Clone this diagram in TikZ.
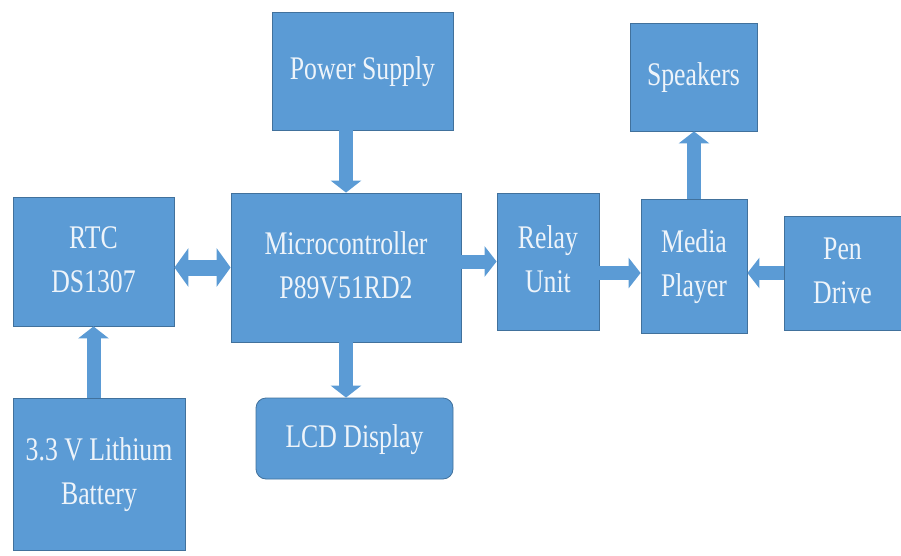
\documentclass[tikz,border=0pt]{standalone}
\usepackage{fontspec}
\setmainfont{LiberationSerif-Regular.ttf}
\usetikzlibrary{arrows.meta,calc}
\definecolor{blockblue}{HTML}{5B9BD5}
\definecolor{blockedge}{HTML}{41719C}
\definecolor{blocktext}{HTML}{EEF4FA}
% narrow, tall lettering as in the original slide
\newcommand{\blocktxt}[1]{\scalebox{0.78}[1]{\begin{tabular}{@{}c@{}}#1\end{tabular}}}
\begin{document}
\begin{tikzpicture}[x=1pt, y=-1pt,
  block/.style={draw=blockedge, fill=blockblue, line width=0.8pt, text=blocktext, align=center,
    inner sep=0pt, font=\fontsize{33}{44}\selectfont},
  flow/.style={draw=blockblue, line width=14pt, -{Triangle[width=30pt,length=12pt]}},
  both/.style={draw=blockblue, line width=16pt, {Triangle[width=38pt,length=14pt]}-{Triangle[width=38pt,length=14pt]}}]
\useasboundingbox (0,0) rectangle (901,556);

% Blocks
\node[block, minimum width=181pt, minimum height=118pt] (power) at (362.5,71) {\blocktxt{Power Supply}};
\node[block, minimum width=127pt, minimum height=108pt] (speakers) at (693.5,77) {\blocktxt{Speakers}};
\node[block, minimum width=161pt, minimum height=129pt] (rtc) at (93.5,261.5) {\blocktxt{RTC\\DS1307}};
\node[block, minimum width=230pt, minimum height=149pt] (micro) at (346,267.5) {\blocktxt{Microcontroller\\P89V51RD2}};
\node[block, minimum width=102pt, minimum height=137pt] (relay) at (548,261.5) {\blocktxt{Relay\\Unit}};
\node[block, minimum width=106pt, minimum height=134pt] (media) at (694,266) {\blocktxt{Media\\Player}};
\node[block, minimum width=117pt, minimum height=114pt] (pen) at (842.5,273) {\blocktxt{Pen\\Drive}};
\node[block, rounded corners=10pt, minimum width=197pt, minimum height=81pt] (lcd) at (354.5,438.5) {\blocktxt{LCD Display}};
\node[block, minimum width=172pt, minimum height=152pt] (battery) at (99,474) {\blocktxt{3.3 V Lithium\\Battery}};

% Connections
\draw[flow] (micro.north |- power.south) -- (micro.north);
\draw[both] (rtc.east |- micro.west) -- (micro.west);
\draw[flow] (rtc.south |- battery.north) -- (rtc.south);
\draw[flow] (micro.south) -- (micro.south |- lcd.north);
\draw[flow] (micro.east |- relay.west) -- (relay.west);
\draw[flow] (relay.east |- pen.west) -- (media.west |- pen.west);
\draw[flow] (pen.west) -- (media.east |- pen.west);
\draw[flow] (media.north) -- (media.north |- speakers.south);
\end{tikzpicture}
\end{document}
